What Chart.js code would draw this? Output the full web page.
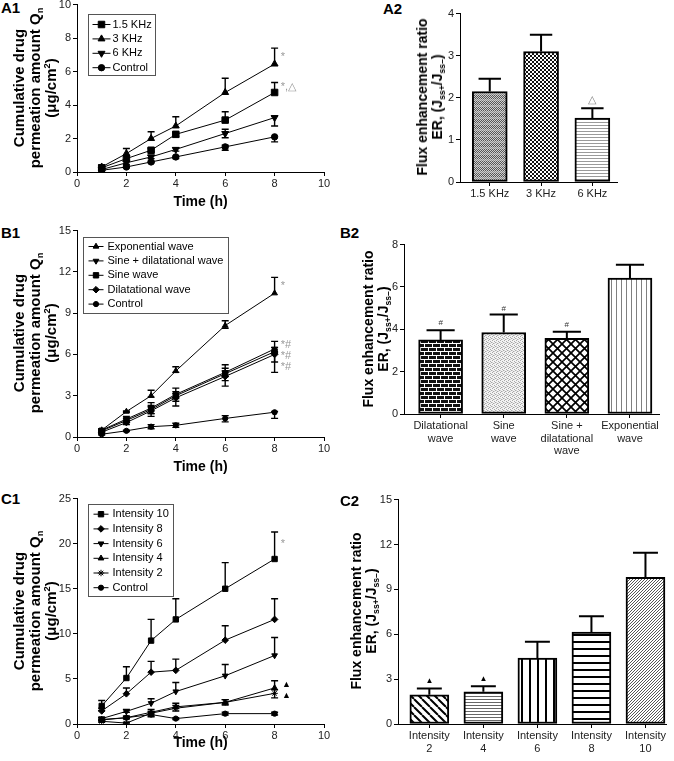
<!DOCTYPE html>
<html>
<head>
<meta charset="utf-8">
<script src="https://cdn.jsdelivr.net/npm/chart.js@4.4.1/dist/chart.umd.min.js"></script>
<style>
html, body { margin: 0; padding: 0; background: #fff; overflow: hidden; }
#fig { position: relative; width: 674px; height: 761px; font-family: "Liberation Sans", Arial, Helvetica, sans-serif; }
.box { position: absolute; }
.tag { position: absolute; font-weight: bold; font-size: 15px; line-height: 15px; color: #000; }
.ytitle { position: absolute; font-weight: bold; color: #000; text-align: center; white-space: nowrap;
          transform: translate(-50%, -50%) rotate(-90deg); }
.ytitle sub, .ytitle sup { font-size: 62%; line-height: 0; }
.ytitle sub { vertical-align: -0.35em; }
.ytitle sup { vertical-align: 0.6em; }
</style>
</head>
<body>
<div id="fig"></div>
<script>
// ---- data -------------------------------------------------------------
const times = [1, 2, 3, 4, 6, 8];

// A1 - frequency
const a1Names = ['1.5 KHz', '3 KHz', '6 KHz', 'Control'];
const a1Khz15 = [0.25, 0.8, 1.3, 2.25, 3.1, 4.75];
const a1Khz15Up = [0.05, 0.15, 0.1, 0.1, 0.5, 0.6];
const a1Khz15Dn = [0.05, 0.15, 0.1, 0.15, 0, 0];
const a1Khz3 = [0.3, 1.1, 2.0, 2.75, 4.75, 6.45];
const a1Khz3Up = [0.1, 0.3, 0.4, 0.55, 0.85, 0.95];
const a1Khz3Dn = [0, 0, 0, 0, 0, 0];
const a1Khz6 = [0.15, 0.55, 0.9, 1.35, 2.3, 3.25];
const a1Khz6Up = [0.05, 0.1, 0.1, 0.1, 0.25, 0.1];
const a1Khz6Dn = [0.05, 0.1, 0.1, 0.1, 0.25, 0.5];
const a1Ctrl = [0.1, 0.3, 0.6, 0.9, 1.5, 2.1];
const a1CtrlUp = [0.05, 0.05, 0.05, 0.05, 0.1, 0];
const a1CtrlDn = [0.05, 0.05, 0.05, 0.1, 0.2, 0.3];
const a1Notes = ['*', '*,△'];
const a1NoteY = [6.9, 5.1];

// A2
const a2Labels = ['1.5 KHz', '3 KHz', '6 KHz'];
const a2Values = [2.15, 3.1, 1.52];
const a2Err = [0.3, 0.4, 0.23];
const a2Marks = ['', '', '△'];
const a2MarkY = [0, 0, 1.95];

// B1 - waveform
const b1Names = ['Exponential wave', 'Sine + dilatational wave', 'Sine wave', 'Dilatational wave', 'Control'];
const b1Exp = [0.5, 1.85, 3.0, 4.8, 8.1, 10.45];
const b1ExpUp = [0.05, 0.05, 0.4, 0.3, 0.35, 1.15];
const b1ExpDn = [0.05, 0.05, 0.1, 0.1, 0.2, 0];
const b1SineDil = [0.5, 1.3, 2.1, 3.1, 4.7, 6.4];
const b1SineDilUp = [0.1, 0.2, 0.4, 0.45, 0.55, 0.55];
const b1SineDilDn = [0.1, 0.2, 0.4, 0.3, 0.3, 0.3];
const b1Sine = [0.45, 1.2, 2.0, 3.0, 4.6, 6.2];
const b1SineUp = [0.1, 0.15, 0.3, 0.3, 0.4, 0.3];
const b1SineDn = [0.1, 0.15, 0.3, 0.4, 0.5, 0.75];
const b1Dil = [0.35, 1.05, 1.9, 2.85, 4.4, 6.0];
const b1DilUp = [0.1, 0.15, 0.3, 0.3, 0.4, 0.2];
const b1DilDn = [0.1, 0.15, 0.4, 0.6, 0.7, 1.3];
const b1Ctrl = [0.2, 0.45, 0.75, 0.85, 1.35, 1.8];
const b1CtrlUp = [0.05, 0.05, 0.15, 0.15, 0.2, 0.05];
const b1CtrlDn = [0.05, 0.05, 0.15, 0.15, 0.25, 0.45];
const b1Notes = ['*', '*#', '*#', '*#'];
const b1NoteY = [11.0, 6.7, 5.9, 5.07];

// B2
const b2Labels = [['Dilatational', 'wave'], ['Sine', 'wave'], ['Sine +', 'dilatational', 'wave'], ['Exponential', 'wave']];
const b2Values = [3.5, 3.85, 3.57, 6.42];
const b2Err = [0.46, 0.85, 0.32, 0.63];
const b2Marks = ['#', '#', '#', ''];
const b2MarkY = [4.32, 4.98, 4.2, 0];

// C1 - intensity
const c1Names = ['Intensity 10', 'Intensity 8', 'Intensity 6', 'Intensity 4', 'Intensity 2', 'Control'];
const c1I10 = [2.0, 5.1, 9.25, 11.6, 15.0, 18.3];
const c1I10Up = [0.6, 1.25, 2.35, 2.3, 2.9, 3.0];
const c1I10Dn = [0.5, 0, 0, 0, 0, 0];
const c1I8 = [1.45, 3.35, 5.75, 5.95, 9.3, 11.6];
const c1I8Up = [0.3, 0.65, 1.2, 1.25, 1.6, 2.3];
const c1I8Dn = [0, 0, 0, 0, 0, 0];
const c1I6 = [0.6, 1.4, 2.3, 3.6, 5.35, 7.6];
const c1I6Up = [0.15, 0.2, 0.5, 1.0, 1.25, 2.0];
const c1I6Dn = [0.1, 0.1, 0, 0, 0, 0];
const c1I4 = [0.5, 0.7, 1.3, 1.9, 2.4, 4.0];
const c1I4Up = [0.2, 0.2, 0.3, 0.4, 0.3, 0.8];
const c1I4Dn = [0.1, 0.1, 0.2, 0.2, 0.2, 0];
const c1I2 = [0.3, 0.1, 1.2, 1.75, 2.4, 3.4];
const c1I2Up = [0.1, 0.1, 0.2, 0.3, 0.3, 0.4];
const c1I2Dn = [0.1, 0.1, 0.3, 0.3, 0.3, 0.5];
const c1Ctrl = [0.45, 0.7, 1.05, 0.6, 1.15, 1.15];
const c1CtrlUp = [0.1, 0.1, 0.25, 0.1, 0.15, 0.15];
const c1CtrlDn = [0.1, 0.1, 0.25, 0.1, 0.15, 0.15];
const c1Notes = ['*', '▲', '▲'];
const c1NoteY = [19.95, 4.4, 3.2];

// C2
const c2Labels = [['Intensity', '2'], ['Intensity', '4'], ['Intensity', '6'], ['Intensity', '8'], ['Intensity', '10']];
const c2Values = [1.95, 2.15, 4.4, 6.15, 9.8];
const c2Err = [0.42, 0.37, 1.1, 1.05, 1.65];
const c2Marks = ['▲', '▲', '', '', ''];
const c2MarkY = [2.87, 3.0, 0, 0, 0];

// ---- setup ------------------------------------------------------------
const FONT = '"Liberation Sans", Arial, Helvetica, sans-serif';
Chart.defaults.font.family = FONT;
Chart.defaults.color = '#222';
const fig = document.getElementById('fig');

function addCanvas(left, top, width, height) {
    const d = document.createElement('div');
    d.className = 'box';
    d.style.cssText = `left:${left}px;top:${top}px;width:${width}px;height:${height}px;`;
    const c = document.createElement('canvas');
    d.appendChild(c);
    fig.appendChild(d);
    return c;
}

function addHtml(cls, left, top, html, size, lh) {
    const d = document.createElement('div');
    d.className = cls;
    d.style.left = left + 'px';
    d.style.top = top + 'px';
    if (size) d.style.fontSize = size + 'px';
    if (lh) d.style.lineHeight = lh + 'px';
    d.innerHTML = html;
    fig.appendChild(d);
}

function drawMarker(ctx, style, rot, x, y, r) {
    ctx.save();
    ctx.translate(x, y);
    ctx.rotate((rot || 0) * Math.PI / 180);
    ctx.fillStyle = '#000';
    ctx.strokeStyle = '#000';
    ctx.lineWidth = 1;
    ctx.beginPath();
    if (style === 'rect') {
        const s = r * Math.SQRT1_2;
        ctx.rect(-s, -s, 2 * s, 2 * s);
    } else if (style === 'triangle') {
        const e = 3 * r / Math.sqrt(3);
        const h = e * Math.sqrt(3) / 2;
        ctx.moveTo(0, -2 * h / 3);
        ctx.lineTo(e / 2, h / 3);
        ctx.lineTo(-e / 2, h / 3);
        ctx.closePath();
    } else if (style === 'rectRot') {
        ctx.moveTo(0, -r); ctx.lineTo(r, 0); ctx.lineTo(0, r); ctx.lineTo(-r, 0);
        ctx.closePath();
    } else if (style === 'star') {
        for (let k = 0; k < 4; k++) {
            const a = k * Math.PI / 4;
            ctx.moveTo(Math.cos(a) * r, Math.sin(a) * r);
            ctx.lineTo(-Math.cos(a) * r, -Math.sin(a) * r);
        }
        ctx.stroke();
        ctx.restore();
        return;
    } else {
        ctx.arc(0, 0, r, 0, Math.PI * 2);
    }
    ctx.fill();
    ctx.stroke();
    ctx.restore();
}

// error bars: errUp / errDn on each dataset
const errorBars = {
    id: 'errorBars',
    afterDatasetsDraw(chart) {
        const { ctx } = chart;
        const y = chart.scales.y;
        chart.data.datasets.forEach((ds, di) => {
            if (!ds.errUp) return;
            const meta = chart.getDatasetMeta(di);
            ctx.save();
            ctx.strokeStyle = '#000';
            ctx.lineWidth = ds.errWidth || 1.4;
            meta.data.forEach((el, i) => {
                const v = ds.data[i].y;
                const cap = el.width ? el.width * 0.32 : 3.5;
                const yTop = y.getPixelForValue(v + ds.errUp[i]);
                const yBot = y.getPixelForValue(v - (ds.errDn ? ds.errDn[i] : 0));
                if (Math.abs(yTop - yBot) < 0.5) return;
                ctx.beginPath();
                ctx.moveTo(el.x, yTop); ctx.lineTo(el.x, yBot);
                if (ds.errUp[i] > 0) { ctx.moveTo(el.x - cap, yTop); ctx.lineTo(el.x + cap, yTop); }
                if (ds.errDn && ds.errDn[i] > 0) { ctx.moveTo(el.x - cap, yBot); ctx.lineTo(el.x + cap, yBot); }
                ctx.stroke();
            });
            ctx.restore();
        });
    }
};

// legend drawn inside the plot area
const insetLegend = {
    id: 'insetLegend',
    afterDraw(chart, args, o) {
        if (!o || !o.w) return;
        const { ctx, chartArea: a } = chart;
        const bx = Math.round(a.left + o.x) + 0.5, by = Math.round(a.top + o.y) + 0.5;
        ctx.save();
        ctx.fillStyle = '#fff';
        ctx.fillRect(bx, by, o.w, o.h);
        ctx.strokeStyle = '#555';
        ctx.lineWidth = 1;
        ctx.strokeRect(bx, by, o.w, o.h);
        ctx.font = '11px ' + FONT;
        ctx.textBaseline = 'middle';
        chart.data.datasets.forEach((ds, i) => {
            const yy = by + o.first + i * o.row;
            ctx.strokeStyle = '#000';
            ctx.beginPath();
            ctx.moveTo(bx + o.lineX, yy); ctx.lineTo(bx + o.lineX + o.lineLen, yy);
            ctx.stroke();
            drawMarker(ctx, ds.pointStyle, ds.pointRotation, bx + o.lineX + o.lineLen / 2, yy, ds.pointRadius);
            ctx.fillStyle = '#000';
            ctx.fillText(ds.label, bx + o.textX, yy);
        });
        ctx.restore();
    }
};

// significance marks in data coordinates
const notes = {
    id: 'notes',
    afterDatasetsDraw(chart, args, o) {
        if (!o || !o.text) return;
        const { ctx } = chart;
        const { x, y } = chart.scales;
        ctx.save();
        ctx.textBaseline = 'middle';
        ctx.textAlign = o.align || 'left';
        o.text.forEach((t, i) => {
            if (!t) return;
            ctx.font = o.size[i] + 'px ' + FONT;
            ctx.fillStyle = o.color[i];
            ctx.fillText(t, x.getPixelForValue(o.x[i]), y.getPixelForValue(o.y[i]));
        });
        ctx.restore();
    }
};

Chart.register(errorBars, insetLegend, notes);

const axisStyle = {
    grid: { drawOnChartArea: false, drawTicks: true, tickLength: 4, color: '#000', lineWidth: 1 },
    border: { color: '#000', width: 1 }
};

function series(label, vals, up, dn, style, r, rot) {
    return {
        label, errUp: up, errDn: dn,
        data: times.map((t, i) => ({ x: t, y: vals[i] })),
        borderColor: '#000', borderWidth: 1, backgroundColor: '#000',
        pointBackgroundColor: '#000', pointBorderColor: '#000', pointBorderWidth: 1,
        pointStyle: style, pointRadius: r, pointRotation: rot || 0,
        tension: 0, fill: false
    };
}

function buildLine(plot, titleY, yMax, yStep, datasets, legend, noteOpts) {
    const WY = 40, TOP = 8, RIGHT = 14;
    const left = plot.x0 - WY, top = plot.y0 - TOP;
    const width = plot.x1 - left + RIGHT;
    const height = Math.round(titleY + 8.4) - top;
    const hx = height - (plot.y1 - top);
    const canvas = addCanvas(left, top, width, height);
    return new Chart(canvas, {
        type: 'line',
        data: { datasets },
        options: {
            responsive: true, maintainAspectRatio: false, animation: false,
            layout: { padding: { top: TOP, right: RIGHT, left: 0, bottom: 0 } },
            plugins: { legend: { display: false }, tooltip: { enabled: false }, insetLegend: legend, notes: noteOpts },
            scales: {
                x: {
                    type: 'linear', min: 0, max: 10,
                    afterFit: s => { s.height = hx; },
                    ticks: { stepSize: 2, padding: 1, font: { size: 11 }, color: '#222' },
                    title: { display: true, text: 'Time (h)', color: '#000', padding: 0, font: { size: 14, weight: 'bold' } },
                    ...axisStyle
                },
                y: {
                    min: 0, max: yMax,
                    afterFit: s => { s.width = WY; },
                    ticks: { stepSize: yStep, padding: 2, font: { size: 11 }, color: '#222' },
                    ...axisStyle
                }
            }
        }
    });
}

function tile(w, h, fn) {
    const c = document.createElement('canvas');
    c.width = w; c.height = h;
    const g = c.getContext('2d');
    fn(g, w, h);
    return g.createPattern(c, 'repeat');
}

function buildBar(plot, xMax, bottom, labels, vals, err, fills, yMax, yStep, barW, marks, markY, markColor, markSize) {
    const WY = 40, TOP = 8, RIGHT = 6, XMIN = 0.42;
    const left = plot.x0 - WY, top = plot.y0 - TOP;
    const width = plot.x1 - left + RIGHT;
    const height = bottom - top;
    const hx = height - (plot.y1 - top);
    const canvas = addCanvas(left, top, width, height);
    return new Chart(canvas, {
        type: 'bar',
        data: {
            datasets: [{
                data: vals.map((v, i) => ({ x: i + 1, y: v })),
                errUp: err, errWidth: 2,
                backgroundColor: fills, borderColor: '#000', borderWidth: 2, borderSkipped: false,
                barThickness: barW
            }]
        },
        options: {
            responsive: true, maintainAspectRatio: false, animation: false,
            layout: { padding: { top: TOP, right: RIGHT, left: 0, bottom: 0 } },
            plugins: {
                legend: { display: false }, tooltip: { enabled: false },
                notes: {
                    text: marks, x: marks.map((_, i) => i + 1), y: markY, align: 'center',
                    color: marks.map(() => markColor), size: marks.map(() => markSize)
                }
            },
            scales: {
                x: {
                    type: 'linear', min: XMIN, max: xMax, offset: false,
                    afterFit: s => { s.height = hx; },
                    afterBuildTicks: s => { s.ticks = labels.map((_, i) => ({ value: i + 1 })); },
                    ticks: { autoSkip: false, maxRotation: 0, padding: 2, font: { size: 11, lineHeight: 1.13 }, color: '#222',
                             callback: (v, i) => labels[i] },
                    ...axisStyle,
                    grid: { ...axisStyle.grid, offset: false }
                },
                y: {
                    min: 0, max: yMax,
                    afterFit: s => { s.width = WY; },
                    ticks: { stepSize: yStep, padding: 2, font: { size: 11 }, color: '#222' },
                    ...axisStyle
                }
            }
        }
    });
}

// ---- A1 -----------------------------------------------------------------
buildLine({ x0: 77, x1: 324, y0: 4, y1: 172 }, 203, 10, 2, [
    series(a1Names[0], a1Khz15, a1Khz15Up, a1Khz15Dn, 'rect', 4.6),
    series(a1Names[1], a1Khz3, a1Khz3Up, a1Khz3Dn, 'triangle', 4),
    series(a1Names[2], a1Khz6, a1Khz6Up, a1Khz6Dn, 'triangle', 4, 180),
    series(a1Names[3], a1Ctrl, a1CtrlUp, a1CtrlDn, 'circle', 3.2)
], { x: 11, y: 9, w: 67, h: 61, first: 10, row: 14.4, lineX: 4, lineLen: 18, textX: 24 },
   { text: a1Notes, x: [8.25, 8.25], y: a1NoteY, color: ['#999', '#999'], size: [11, 11] });

// ---- B1 -----------------------------------------------------------------
buildLine({ x0: 77, x1: 324, y0: 230, y1: 437 }, 468, 15, 3, [
    series(b1Names[0], b1Exp, b1ExpUp, b1ExpDn, 'triangle', 3.3),
    series(b1Names[1], b1SineDil, b1SineDilUp, b1SineDilDn, 'triangle', 3.3, 180),
    series(b1Names[2], b1Sine, b1SineUp, b1SineDn, 'rect', 3.8),
    series(b1Names[3], b1Dil, b1DilUp, b1DilDn, 'rectRot', 3.3),
    series(b1Names[4], b1Ctrl, b1CtrlUp, b1CtrlDn, 'circle', 2.6)
], { x: 6, y: 6, w: 145, h: 76, first: 9, row: 14.4, lineX: 5, lineLen: 15, textX: 24 },
   { text: b1Notes, x: [8.25, 8.25, 8.25, 8.25], y: b1NoteY, color: ['#999', '#999', '#999', '#999'], size: [11, 11, 11, 11] });

// ---- C1 -----------------------------------------------------------------
buildLine({ x0: 77, x1: 324, y0: 498, y1: 724 }, 744, 25, 5, [
    series(c1Names[0], c1I10, c1I10Up, c1I10Dn, 'rect', 3.8),
    series(c1Names[1], c1I8, c1I8Up, c1I8Dn, 'rectRot', 3.3),
    series(c1Names[2], c1I6, c1I6Up, c1I6Dn, 'triangle', 3.3, 180),
    series(c1Names[3], c1I4, c1I4Up, c1I4Dn, 'triangle', 3.3),
    series(c1Names[4], c1I2, c1I2Up, c1I2Dn, 'star', 3.2),
    series(c1Names[5], c1Ctrl, c1CtrlUp, c1CtrlDn, 'circle', 2.6)
], { x: 11, y: 5, w: 85, h: 92, first: 9.7, row: 14.7, lineX: 5, lineLen: 15, textX: 24 },
   { text: c1Notes, x: [8.25, 8.3, 8.3], y: c1NoteY, color: ['#999', '#000', '#000'], size: [11, 9, 9] });

// ---- bar panels ---------------------------------------------------------
const a2Fills = [
    tile(2, 6, g => {
        g.fillStyle = '#cfcfcf'; g.fillRect(0, 0, 2, 6);
        g.fillStyle = '#555'; g.fillRect(0, 0, 1, 1); g.fillRect(1, 1, 1, 1); g.fillRect(0, 2, 1, 1); g.fillRect(1, 3, 1, 1);
        g.fillStyle = '#8a8a8a'; g.fillRect(0, 4, 1, 1); g.fillRect(1, 5, 1, 1);
    }),
    tile(4, 4, g => { g.fillStyle = '#fff'; g.fillRect(0, 0, 4, 4); g.fillStyle = '#111'; g.fillRect(0, 0, 2, 2); g.fillRect(2, 2, 2, 2); }),
    tile(1, 3, g => { g.fillStyle = '#fff'; g.fillRect(0, 0, 1, 3); g.fillStyle = '#9a9a9a'; g.fillRect(0, 0, 1, 1); })
];
const b2Fills = [
    tile(8, 8, g => {
        g.fillStyle = '#111'; g.fillRect(0, 0, 8, 8);
        g.fillStyle = '#fff';
        g.fillRect(0, 3, 8, 1); g.fillRect(0, 7, 8, 1);
        g.fillRect(0, 0, 1, 3); g.fillRect(4, 4, 1, 3);
    }),
    tile(4, 4, g => {
        g.fillStyle = '#f3f3f3'; g.fillRect(0, 0, 4, 4);
        g.fillStyle = '#a8a8a8'; g.fillRect(0, 0, 1, 1); g.fillRect(2, 1, 1, 1); g.fillRect(1, 3, 1, 1); g.fillRect(3, 2, 1, 1);
        g.fillStyle = '#d0d0d0'; g.fillRect(2, 3, 1, 1); g.fillRect(0, 2, 1, 1);
    }),
    tile(9, 9, g => {
        g.fillStyle = '#fff'; g.fillRect(0, 0, 9, 9);
        g.strokeStyle = '#000'; g.lineWidth = 1.7;
        g.beginPath();
        g.moveTo(-1, -1); g.lineTo(10, 10);
        g.moveTo(-1, 10); g.lineTo(10, -1);
        g.stroke();
    }),
    tile(5, 1, g => { g.fillStyle = '#fff'; g.fillRect(0, 0, 5, 1); g.fillStyle = '#808080'; g.fillRect(2, 0, 1, 1); })
];
const c2Fills = [
    tile(8, 8, g => {
        g.fillStyle = '#fff'; g.fillRect(0, 0, 8, 8);
        g.strokeStyle = '#000'; g.lineWidth = 2;
        g.beginPath();
        [-8, 0, 8].forEach(k => { g.moveTo(k, 0); g.lineTo(k + 8, 8); });
        g.stroke();
    }),
    tile(1, 3, g => { g.fillStyle = '#fff'; g.fillRect(0, 0, 1, 3); g.fillStyle = '#666'; g.fillRect(0, 1, 1, 1); }),
    tile(8, 1, g => { g.fillStyle = '#fff'; g.fillRect(0, 0, 8, 1); g.fillStyle = '#000'; g.fillRect(3, 0, 2, 1); }),
    tile(1, 7, g => { g.fillStyle = '#fff'; g.fillRect(0, 0, 1, 7); g.fillStyle = '#000'; g.fillRect(0, 3, 1, 2); }),
    tile(3, 3, g => {
        g.fillStyle = '#fff'; g.fillRect(0, 0, 3, 3);
        g.strokeStyle = '#555'; g.lineWidth = 1;
        g.beginPath();
        [-3, 0, 3].forEach(k => { g.moveTo(k, 3); g.lineTo(k + 3, 0); });
        g.stroke();
    })
];

buildBar({ x0: 460, x1: 617, y0: 13, y1: 182 }, 3.48, 204, a2Labels, a2Values, a2Err, a2Fills, 4, 1, 35,
    a2Marks, a2MarkY, '#888', 11);
buildBar({ x0: 404, x1: 659, y0: 244, y1: 414 }, 4.46, 464, b2Labels, b2Values, b2Err, b2Fills, 8, 2, 44,
    b2Marks, b2MarkY, '#333', 8);
buildBar({ x0: 398, x1: 666, y0: 499, y1: 724 }, 5.38, 757, c2Labels, c2Values, c2Err, c2Fills, 15, 3, 39,
    c2Marks, c2MarkY, '#000', 8);

// ---- text: panel tags and y titles -------------------------------------
addHtml('tag', 1, 0, 'A1');
addHtml('tag', 383, 1, 'A2');
addHtml('tag', 1, 225, 'B1');
addHtml('tag', 340, 225, 'B2');
addHtml('tag', 1, 491, 'C1');
addHtml('tag', 340, 493, 'C2');

const qTitle = 'Cumulative drug<br>permeation amount Q<sub>n</sub><br>(μg/cm<sup>2</sup>)';
const erTitle = 'Flux enhancement ratio<br>ER, (J<sub>ss+</sub>/J<sub>ss–</sub>)';
addHtml('ytitle', 35, 88, qTitle, 15, 16);
addHtml('ytitle', 35, 333, qTitle, 15, 16);
addHtml('ytitle', 35, 611, qTitle, 15, 16);
addHtml('ytitle', 430, 97, erTitle, 14, 15);
addHtml('ytitle', 376, 329, erTitle, 14, 15);
addHtml('ytitle', 364, 611, erTitle, 14, 15);
</script>
</body>
</html>
